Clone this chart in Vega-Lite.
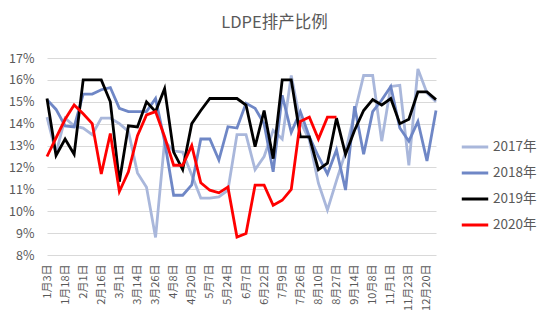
{
  "$schema": "https://vega.github.io/schema/vega-lite/v6.json",
  "width": 389,
  "height": 197,
  "autosize": {"type": "none"},
  "padding": {"left": 47, "top": 58, "right": 114, "bottom": 75},
  "background": "white",
  "title": {"text": "LDPE排产比例", "fontSize": 16.5, "font": "Noto Sans CJK SC", "fontWeight": "normal", "color": "#595959", "anchor": "middle", "dx": 33, "offset": 21},
  "data": {"values": [
    {"d": "1月3日", "2017年": 14.3, "2018年": 15.1, "2019年": 15.15, "2020年": 12.5},
    {"d": "1月10日", "2017年": 12.65, "2018年": 14.65, "2019年": 12.55, "2020年": 13.35},
    {"d": "1月18日", "2017年": 14.25, "2018年": 13.9, "2019年": 13.3, "2020年": 14.2},
    {"d": "1月25日", "2017年": 13.9, "2018年": 13.85, "2019年": 12.6, "2020年": 14.85},
    {"d": "2月1日", "2017年": 13.8, "2018年": 15.35, "2019年": 16.0, "2020年": 14.45},
    {"d": "2月8日", "2017年": 13.5, "2018年": 15.35, "2019年": 16.0, "2020年": 14.0},
    {"d": "2月16日", "2017年": 14.25, "2018年": 15.55, "2019年": 16.0, "2020年": 11.7},
    {"d": "2月22日", "2017年": 14.25, "2018年": 15.65, "2019年": 15.0, "2020年": 13.55},
    {"d": "3月1日", "2017年": 14.0, "2018年": 14.7, "2019年": 11.35, "2020年": 10.9},
    {"d": "3月7日", "2017年": 13.65, "2018年": 14.55, "2019年": 13.9, "2020年": 11.8},
    {"d": "3月14日", "2017年": 11.75, "2018年": 14.55, "2019年": 13.85, "2020年": 13.45},
    {"d": "3月20日", "2017年": 11.1, "2018年": 14.55, "2019年": 15.0, "2020年": 14.4},
    {"d": "3月26日", "2017年": 8.8, "2018年": 15.15, "2019年": 14.55, "2020年": 14.55},
    {"d": "4月1日", "2017年": 13.2, "2018年": 13.2, "2019年": 15.6, "2020年": 13.4},
    {"d": "4月8日", "2017年": 12.75, "2018年": 10.73, "2019年": 12.7, "2020年": 12.1},
    {"d": "4月14日", "2017年": 12.7, "2018年": 10.73, "2019年": 11.9, "2020年": 12.1},
    {"d": "4月20日", "2017年": 11.65, "2018年": 11.2, "2019年": 14.0, "2020年": 13.0},
    {"d": "4月27日", "2017年": 10.6, "2018年": 13.3, "2019年": 14.6, "2020年": 11.3},
    {"d": "5月7日", "2017年": 10.6, "2018年": 13.3, "2019年": 15.15, "2020年": 10.96},
    {"d": "5月15日", "2017年": 10.65, "2018年": 12.34, "2019年": 15.15, "2020年": 10.84},
    {"d": "5月24日", "2017年": 10.96, "2018年": 13.86, "2019年": 15.15, "2020年": 11.1},
    {"d": "5月31日", "2017年": 13.5, "2018年": 13.8, "2019年": 15.15, "2020年": 8.82},
    {"d": "6月7日", "2017年": 13.5, "2018年": 14.93, "2019年": 14.85, "2020年": 8.98},
    {"d": "6月14日", "2017年": 11.9, "2018年": 14.7, "2019年": 12.95, "2020年": 11.19},
    {"d": "6月22日", "2017年": 12.5, "2018年": 14.0, "2019年": 14.6, "2020年": 11.19},
    {"d": "6月29日", "2017年": 13.7, "2018年": 11.8, "2019年": 12.4, "2020年": 10.27},
    {"d": "7月9日", "2017年": 13.3, "2018年": 15.3, "2019年": 16.0, "2020年": 10.5},
    {"d": "7月17日", "2017年": 16.2, "2018年": 13.6, "2019年": 16.0, "2020年": 11.0},
    {"d": "7月26日", "2017年": 14.1, "2018年": 14.55, "2019年": 13.4, "2020年": 14.1},
    {"d": "8月2日", "2017年": 13.26, "2018年": 13.4, "2019年": 13.4, "2020年": 14.3},
    {"d": "8月10日", "2017年": 11.28, "2018年": 12.5, "2019年": 11.9, "2020年": 13.3},
    {"d": "8月17日", "2017年": 10.06, "2018年": 11.7, "2019年": 12.2, "2020年": 14.3},
    {"d": "8月27日", "2017年": 11.4, "2018年": 12.8, "2019年": 14.25, "2020年": 14.3},
    {"d": "9月4日", "2017年": 12.7, "2018年": 10.97, "2019年": 12.6},
    {"d": "9月14日", "2017年": 14.5, "2018年": 14.8, "2019年": 13.7},
    {"d": "9月25日", "2017年": 16.2, "2018年": 12.6, "2019年": 14.6},
    {"d": "10月8日", "2017年": 16.2, "2018年": 14.55, "2019年": 15.1},
    {"d": "10月20日", "2017年": 13.2, "2018年": 15.08, "2019年": 14.85},
    {"d": "11月1日", "2017年": 15.7, "2018年": 15.7, "2019年": 15.15},
    {"d": "11月12日", "2017年": 15.75, "2018年": 13.8, "2019年": 14.0},
    {"d": "11月23日", "2017年": 12.1, "2018年": 13.2, "2019年": 14.2},
    {"d": "12月6日", "2017年": 16.5, "2018年": 14.1, "2019年": 15.45},
    {"d": "12月20日", "2017年": 15.4, "2018年": 12.3, "2019年": 15.45},
    {"d": "12月27日", "2017年": 15.0, "2018年": 14.6, "2019年": 15.1}
  ]},
  "transform": [
    {"fold": ["2017年", "2018年", "2019年", "2020年"], "as": ["year", "value"]},
    {"filter": "datum.value != null"}
  ],
  "mark": {"type": "line", "strokeWidth": 2.8},
  "encoding": {
    "x": {
      "field": "d", "type": "ordinal", "sort": null,
      "scale": {"type": "point", "padding": 0},
      "axis": {
        "values": ["1月3日", "1月18日", "2月1日", "2月16日", "3月1日", "3月14日", "3月26日", "4月8日", "4月20日", "5月7日", "5月24日", "6月7日", "6月22日", "7月9日", "7月26日", "8月10日", "8月27日", "9月14日", "10月8日", "11月1日", "11月23日", "12月20日"],
        "labelAngle": -90, "title": null, "domain": false, "ticks": false, "grid": false,
        "labelFontSize": 11, "labelColor": "#595959", "labelPadding": 9, "labelFont": "Noto Sans CJK SC"
      }
    },
    "y": {
      "field": "value", "type": "quantitative",
      "scale": {"domain": [8, 17], "nice": false, "zero": false},
      "axis": {
        "values": [8, 9, 10, 11, 12, 13, 14, 15, 16, 17],
        "labelExpr": "datum.value + '%'", "title": null, "domain": false, "ticks": false,
        "gridColor": "#d9d9d9", "gridWidth": 1, "labelFontSize": 12.5, "labelColor": "#595959",
        "labelPadding": 13, "labelFont": "Noto Sans CJK SC"
      }
    },
    "color": {
      "field": "year", "type": "nominal",
      "scale": {"domain": ["2017年", "2018年", "2019年", "2020年"], "range": ["#A9B7DB", "#6F87C6", "#000000", "#FF0000"]},
      "legend": {
        "title": null, "orient": "none", "legendX": 413, "legendY": 74,
        "symbolType": "stroke", "symbolSize": 700, "symbolStrokeWidth": 3,
        "labelFontSize": 13.5, "labelColor": "#595959", "labelFont": "Noto Sans CJK SC",
        "rowPadding": 4, "padding": 0, "labelOffset": 3
      }
    }
  },
  "config": {"view": {"stroke": null}}
}
